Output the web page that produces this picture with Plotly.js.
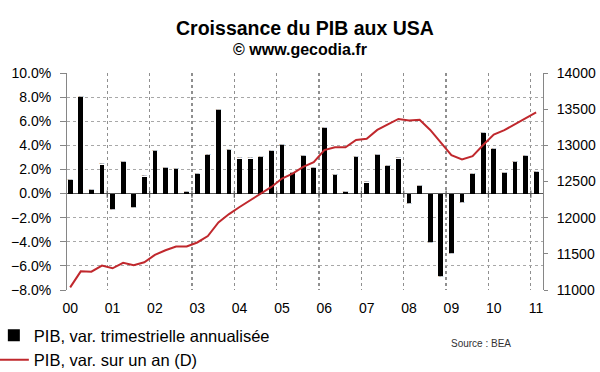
<!DOCTYPE html>
<html>
<head>
<meta charset="utf-8">
<script src="https://cdn.plot.ly/plotly-3.0.1.min.js"></script>
<style>
  html, body { margin: 0; padding: 0; background: #fff; }
  #chart { width: 600px; height: 372px; }
</style>
</head>
<body>
<div id="chart"></div>
<script>
// Quarters 2000 T1 .. 2011 T1
const quarters = [
  '2000 T1','2000 T2','2000 T3','2000 T4',
  '2001 T1','2001 T2','2001 T3','2001 T4',
  '2002 T1','2002 T2','2002 T3','2002 T4',
  '2003 T1','2003 T2','2003 T3','2003 T4',
  '2004 T1','2004 T2','2004 T3','2004 T4',
  '2005 T1','2005 T2','2005 T3','2005 T4',
  '2006 T1','2006 T2','2006 T3','2006 T4',
  '2007 T1','2007 T2','2007 T3','2007 T4',
  '2008 T1','2008 T2','2008 T3','2008 T4',
  '2009 T1','2009 T2','2009 T3','2009 T4',
  '2010 T1','2010 T2','2010 T3','2010 T4',
  '2011 T1'
];

// PIB, variation trimestrielle annualisée (%)
const growthQoQ = [
  1.1, 8.0, 0.3, 2.4,
  -1.3, 2.6, -1.1, 1.4,
  3.5, 2.1, 2.0, 0.1,
  1.6, 3.2, 6.9, 3.6,
  2.9, 2.9, 3.0, 3.5,
  4.0, 1.7, 3.1, 2.1,
  5.4, 1.5, 0.1, 3.0,
  0.9, 3.2, 2.3, 2.9,
  -0.8, 0.6, -4.0, -6.8,
  -4.9, -0.7, 1.6, 5.0,
  3.7, 1.7, 2.6, 3.1,
  1.8
];

// PIB en volume (échelle de droite)
const gdpLevel = [
  11036, 11258, 11254, 11338,
  11300, 11375, 11342, 11383,
  11486, 11550, 11601, 11601,
  11657, 11745, 11935, 12050,
  12147, 12240, 12323, 12425,
  12541, 12610, 12703, 12768,
  12934, 12972, 12972, 13074,
  13092, 13213, 13290, 13365,
  13345, 13352, 13213, 13042,
  12865, 12806, 12851, 13004,
  13150, 13210, 13290, 13380,
  13455
];

const yearLabels = ['00','01','02','03','04','05','06','07','08','09','10','11'];

const xIdx = quarters.map((_, i) => i);
const yearTickVals = yearLabels.map((_, i) => i * 4);
const yearBoundaryVals = yearLabels.slice(0, 11).map((_, i) => i * 4 + 3.5);
const X_RANGE = [-0.3, 44.65];

const FONT = 'Liberation Sans, Arial, sans-serif';
const GRID = '#a8a8a8';
const VGRID = '#8f8f8f';
const AXIS = '#868686';

const traces = [
  {
    type: 'bar',
    name: 'PIB, var. trimestrielle annualisée',
    x: xIdx,
    y: growthQoQ,
    text: quarters,
    hoverinfo: 'text+y',
    width: 0.45,
    marker: { color: '#000000', line: { width: 0 } },
    xaxis: 'x',
    yaxis: 'y'
  },
  {
    type: 'scatter',
    mode: 'lines',
    name: 'PIB, var. sur un an (D)',
    x: xIdx,
    y: gdpLevel,
    text: quarters,
    hoverinfo: 'text+y',
    line: { color: '#c0282d', width: 2 },
    xaxis: 'x2',
    yaxis: 'y2'
  }
];

// small ticks on the 0% line at the year boundaries
const zeroTickShapes = yearBoundaryVals.map(v => ({
  type: 'line', layer: 'above',
  xref: 'x', yref: 'y',
  x0: v, x1: v, y0: 0.25, y1: -0.35,
  line: { color: '#555', width: 1.2 }
}));

const layout = {
  width: 600,
  height: 372,
  paper_bgcolor: '#ffffff',
  plot_bgcolor: '#ffffff',
  font: { family: FONT, size: 14, color: '#000' },
  margin: { l: 67, r: 57, t: 73, b: 82, autoexpand: false },
  bargap: 0,
  title: {
    text: '<b>Croissance du PIB aux USA</b>',
    font: { family: FONT, size: 19.5, color: '#000' },
    x: 0.5,
    xanchor: 'center',
    xref: 'paper',
    y: 1 - 28 / 372,
    yref: 'container',
    yanchor: 'middle'
  },
  showlegend: true,
  legend: {
    x: -73 / 475,
    xanchor: 'left',
    y: (290 - 318) / 217,
    yanchor: 'top',
    orientation: 'v',
    font: { family: FONT, size: 16.5, color: '#000' },
    bgcolor: 'rgba(0,0,0,0)',
    tracegroupgap: 0,
    traceorder: 'normal'
  },
  // main x axis: dotted vertical grid at the year boundaries
  xaxis: {
    range: X_RANGE,
    tickmode: 'array',
    tickvals: yearBoundaryVals,
    showticklabels: false,
    ticks: '',
    showgrid: true,
    gridcolor: VGRID,
    griddash: 'dot',
    gridwidth: 1.3,
    zeroline: false,
    showline: false,
    fixedrange: true
  },
  // overlaid x axis: year labels under the plot
  xaxis2: {
    overlaying: 'x',
    anchor: 'y2',
    side: 'bottom',
    range: X_RANGE,
    tickmode: 'array',
    tickvals: yearTickVals,
    ticktext: yearLabels,
    showgrid: false,
    zeroline: false,
    showline: false,
    ticks: '',
    ticklabelstandoff: 8,
    tickfont: { family: FONT, size: 14, color: '#000' },
    fixedrange: true
  },
  yaxis: {
    range: [-8, 10],
    tickmode: 'linear',
    tick0: 0,
    dtick: 2,
    tickformat: '.1f',
    ticksuffix: '%',
    showgrid: true,
    gridcolor: GRID,
    griddash: 'dot',
    gridwidth: 1,
    zeroline: true,
    zerolinecolor: '#555',
    zerolinewidth: 1,
    showline: true,
    linecolor: AXIS,
    linewidth: 1,
    ticks: 'outside',
    ticklen: 6,
    tickcolor: AXIS,
    ticklabelstandoff: 6,
    tickfont: { family: FONT, size: 14, color: '#000' },
    fixedrange: true
  },
  yaxis2: {
    overlaying: 'y',
    side: 'right',
    range: [11000, 14000],
    tickmode: 'linear',
    tick0: 11000,
    dtick: 500,
    tickformat: 'd',
    showgrid: false,
    zeroline: false,
    showline: true,
    linecolor: AXIS,
    linewidth: 1,
    ticks: 'outside',
    ticklen: 4,
    tickcolor: AXIS,
    ticklabelstandoff: 6,
    tickfont: { family: FONT, size: 14, color: '#000' },
    fixedrange: true
  },
  shapes: zeroTickShapes,
  annotations: [
    {
      text: '<b>© www.gecodia.fr</b>',
      xref: 'paper', yref: 'paper',
      x: (300 - 67) / 475, y: (290 - 50) / 217,
      xanchor: 'center', yanchor: 'middle',
      showarrow: false,
      font: { family: FONT, size: 16, color: '#000' }
    },
    {
      text: 'Source : BEA',
      xref: 'paper', yref: 'paper',
      x: (480 - 67) / 475, y: (290 - 343) / 217,
      xanchor: 'center', yanchor: 'middle',
      showarrow: false,
      font: { family: FONT, size: 10, color: '#333' }
    }
  ]
};

Plotly.newPlot('chart', traces, layout, { displayModeBar: false, staticPlot: true });
</script>
</body>
</html>
